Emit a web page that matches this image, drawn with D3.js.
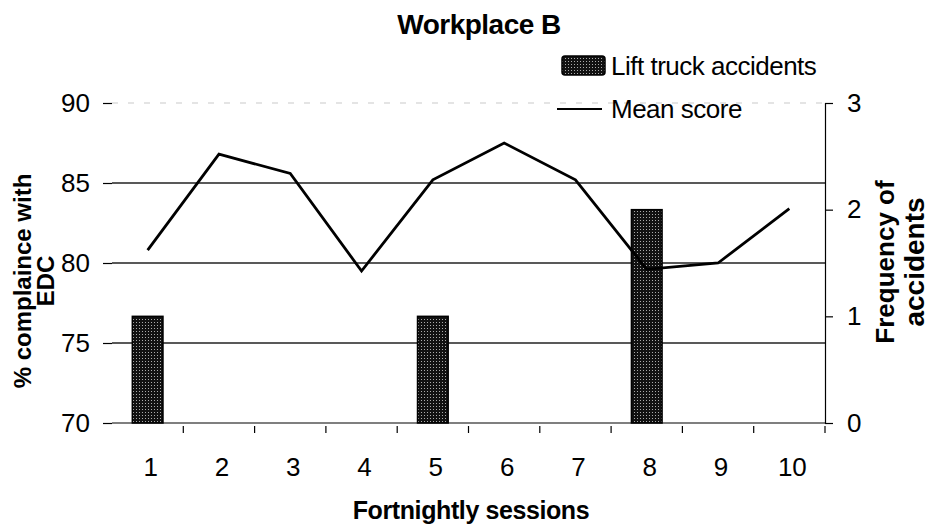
<!DOCTYPE html>
<html>
<head>
<meta charset="utf-8">
<script src="https://cdn.jsdelivr.net/npm/d3@7"></script>
<style>
  body { margin: 0; background: #fff; }
  text { font-family: "Liberation Sans", Arial, sans-serif; fill: #000; }
</style>
</head>
<body>
<svg id="chart" width="939" height="528"></svg>
<script>
// Data
const sessions = ["1", "2", "3", "4", "5", "6", "7", "8", "9", "10"];
const meanScore = [80.8, 86.8, 85.6, 79.5, 85.2, 87.5, 85.2, 79.6, 80.0, 83.4];
const accidents = [1, 0, 0, 0, 1, 0, 0, 2, 0, 0];
const leftTicks = [70, 75, 80, 85, 90];
const rightTicks = [0, 1, 2, 3];

const svg = d3.select("#chart");

const plot = { left: 112, right: 825, top: 103, bottom: 423 };

const x = d3.scaleBand()
  .domain(sessions)
  .range([plot.left, plot.right])
  .padding(0);

const yL = d3.scaleLinear().domain([70, 90]).range([plot.bottom, plot.top]);
const yR = d3.scaleLinear().domain([0, 3]).range([plot.bottom, plot.top]);

// stipple pattern for bars
const defs = svg.append("defs");
const pat = defs.append("pattern")
  .attr("id", "stipple")
  .attr("width", 3).attr("height", 3)
  .attr("patternUnits", "userSpaceOnUse");
pat.append("rect").attr("width", 3).attr("height", 3).attr("fill", "#111");
pat.append("rect").attr("x", 1).attr("y", 1).attr("width", 1).attr("height", 1).attr("fill", "#aaa");

// gridlines
svg.append("g")
  .selectAll("line")
  .data(leftTicks.filter(d => d > 70))
  .enter()
  .append("line")
  .attr("x1", plot.left)
  .attr("x2", plot.right)
  .attr("y1", d => yL(d))
  .attr("y2", d => yL(d))
  .attr("stroke", d => d === 90 ? "#bbb" : "#222")
  .attr("stroke-dasharray", d => d === 90 ? "6,10" : null)
  .attr("stroke-width", d => d === 90 ? 0.8 : 1.3);

// bars (right axis)
const bw = x.bandwidth() * 0.43;
svg.append("g")
  .selectAll("rect")
  .data(sessions.map((s, i) => ({ s: s, v: accidents[i] })).filter(d => d.v > 0))
  .enter()
  .append("rect")
  .attr("x", d => x(d.s) + x.bandwidth() / 2 - bw / 2)
  .attr("width", bw)
  .attr("y", d => yR(d.v))
  .attr("height", d => yR(0) - yR(d.v))
  .attr("fill", "url(#stipple)")
  .attr("stroke", "#000")
  .attr("stroke-width", 1.5);

// mean score line
svg.append("path")
  .datum(meanScore)
  .attr("fill", "none")
  .attr("stroke", "#000")
  .attr("stroke-width", 2.8)
  .attr("stroke-linejoin", "miter")
  .attr("d", d3.line()
    .x((d, i) => x(sessions[i]) + x.bandwidth() / 2)
    .y(d => yL(d)));

// left axis: ticks only
const gL = svg.append("g")
  .attr("transform", `translate(${plot.left},0)`)
  .call(d3.axisLeft(yL).tickValues(leftTicks).tickSize(9).tickPadding(13));
gL.select(".domain").remove();
gL.selectAll("line").attr("stroke", "#000").attr("stroke-width", 1.2);
gL.selectAll("text").attr("font-size", 26).attr("font-family", "Liberation Sans, Arial, sans-serif");

// right axis
const gR = svg.append("g")
  .attr("transform", `translate(${plot.right},0)`)
  .call(d3.axisRight(yR).tickValues(rightTicks).tickFormat(d3.format("d")).tickSize(8).tickPadding(14));
gR.select(".domain").attr("stroke", "#000").attr("stroke-width", 1.2);
gR.selectAll("line").attr("stroke", "#000").attr("stroke-width", 1.2);
gR.selectAll("text").attr("font-size", 26).attr("font-family", "Liberation Sans, Arial, sans-serif");

// x axis: ticks between categories
const gX = svg.append("g")
  .attr("transform", `translate(0,${plot.bottom})`);
gX.append("line")
  .attr("x1", plot.left).attr("x2", plot.right)
  .attr("stroke", "#000").attr("stroke-width", 1.2);
gX.selectAll("line.tk")
  .data(sessions.slice(1).concat(["end"]))
  .enter()
  .append("line")
  .attr("class", "tk")
  .attr("x1", d => d === "end" ? plot.right : x(d))
  .attr("x2", d => d === "end" ? plot.right : x(d))
  .attr("y1", 3).attr("y2", 10)
  .attr("stroke", "#000").attr("stroke-width", 1.2);
gX.selectAll("text")
  .data(sessions)
  .enter()
  .append("text")
  .attr("x", d => x(d) + x.bandwidth() / 2 + 3)
  .attr("y", 53)
  .attr("text-anchor", "middle")
  .attr("font-size", 26)
  .text(d => d);

// title
svg.append("text")
  .attr("x", 479).attr("y", 34)
  .attr("text-anchor", "middle")
  .attr("font-size", 28).attr("font-weight", "bold")
  .attr("letter-spacing", -0.5)
  .text("Workplace B");

// x title
svg.append("text")
  .attr("x", 471).attr("y", 519)
  .attr("text-anchor", "middle")
  .attr("font-size", 25).attr("font-weight", "bold")
  .attr("letter-spacing", -0.4)
  .text("Fortnightly sessions");

// left title
const lt = svg.append("text")
  .attr("transform", "translate(31,281) rotate(-90)")
  .attr("text-anchor", "middle")
  .attr("font-size", 24).attr("font-weight", "bold");
lt.append("tspan").attr("x", 0).attr("dy", 0).text("% complaince with");
lt.append("tspan").attr("x", 0).attr("dy", 23).text("EDC");

// right title
const rt = svg.append("text")
  .attr("transform", "translate(894,262) rotate(-90)")
  .attr("text-anchor", "middle")
  .attr("font-size", 26).attr("font-weight", "bold");
rt.append("tspan").attr("x", 0).attr("dy", 0).text("Frequency of");
rt.append("tspan").attr("x", 0).attr("dy", 30).attr("font-size", 28).text("accidents");

// legend
const lg = svg.append("g");
lg.append("rect")
  .attr("x", 562).attr("y", 56).attr("width", 43).attr("height", 19)
  .attr("rx", 3)
  .attr("fill", "url(#stipple)")
  .attr("stroke", "#000").attr("stroke-width", 1.5);
lg.append("text")
  .attr("x", 611).attr("y", 75)
  .attr("font-size", 26)
  .attr("letter-spacing", -0.5)
  .text("Lift truck accidents");
lg.append("line")
  .attr("x1", 557).attr("x2", 602).attr("y1", 109).attr("y2", 109)
  .attr("stroke", "#000").attr("stroke-width", 2);
lg.append("text")
  .attr("x", 611).attr("y", 118)
  .attr("font-size", 26)
  .attr("letter-spacing", -0.5)
  .text("Mean score");
</script>
</body>
</html>
